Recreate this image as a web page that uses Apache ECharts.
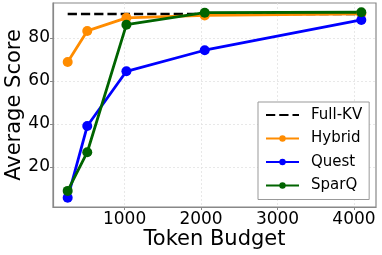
<!DOCTYPE html>
<html><head><meta charset="utf-8">
<script src="https://cdn.jsdelivr.net/npm/echarts@6/dist/echarts.min.js"></script>
<style>html,body{margin:0;padding:0;background:#fff}#c{width:382px;height:255px}</style>
</head><body><div id="c"></div>
<script>
const budgets = [256, 512, 1024, 2048, 4096];
const fullKV = [91.2, 91.2, 91.2, 91.2, 91.2];
const hybrid = [68.8, 83.3, 89.4, 90.5, 91.3];
const quest = [5.6, 39.0, 64.5, 74.3, 88.4];
const sparq = [8.8, 26.8, 86.2, 91.8, 92.0];
const xTicks = [1000, 2000, 3000, 4000];
const yTicks = [20, 40, 60, 80];
const seriesNames = ['Full-KV', 'Hybrid', 'Quest', 'SparQ'];

const FONT = 'DejaVu Sans';
const pairs = arr => budgets.map((b, i) => [b, arr[i]]);

const chart = echarts.init(document.getElementById('c'), null, {renderer: 'canvas'});
function mkLine(name, data, color, dashed) {
  return {
    name, type: 'line', data: pairs(data),
    symbol: dashed ? 'none' : 'circle', symbolSize: 10,
    showSymbol: !dashed,
    lineStyle: {color, width: dashed ? 2.6 : 2.8, type: dashed ? [9.25, 4] : 'solid'},
    itemStyle: {color},
    emphasis: {disabled: true},
    z: 2
  };
}
chart.setOption({
  animation: false,
  textStyle: {fontFamily: FONT},
  grid: {left: 53, right: 6, top: 3, bottom: 48, outerBoundsMode: 'none', containLabel: false, show: true, borderColor: '#888', borderWidth: 1.2, backgroundColor: 'transparent'},
  xAxis: {
    type: 'value', min: 64, max: 4288,
    name: 'Token Budget', nameLocation: 'middle', nameGap: 22, nameMoveOverlap: false,
    nameTextStyle: {fontSize: 21, color: '#000', fontFamily: FONT},
    axisLine: {show: true, lineStyle: {color: '#888', width: 1.2}},
    axisTick: {show: true, length: 3, customValues: xTicks, lineStyle: {color: '#888'}},
    axisLabel: {customValues: xTicks, fontSize: 17, color: '#000', margin: 4, fontFamily: FONT, formatter: v => String(v)},
    splitLine: {show: true, lineStyle: {color: '#e3e3e3', width: 0.8, type: [2, 2]}}
  },
  yAxis: {
    type: 'value', min: 1.3, max: 96.3,
    name: 'Average Score', nameLocation: 'middle', nameGap: 28, nameMoveOverlap: false,
    nameTextStyle: {fontSize: 21, color: '#000', fontFamily: FONT},
    axisLine: {show: true, lineStyle: {color: '#888', width: 1.2}},
    axisTick: {show: true, length: 3, customValues: yTicks, lineStyle: {color: '#888'}},
    axisLabel: {customValues: yTicks, fontSize: 17, color: '#000', margin: 3, fontFamily: FONT, formatter: v => String(v)},
    splitLine: {show: true, lineStyle: {color: '#e3e3e3', width: 0.8, type: [2, 2]}}
  },
  legend: {
    data: [{name: seriesNames[0], itemStyle: {opacity: 0}}, seriesNames[1], seriesNames[2], seriesNames[3]],
    orient: 'vertical', left: 258, top: 102,
    selectedMode: false,
    backgroundColor: '#fff', borderColor: '#999', borderWidth: 1, borderRadius: 0,
    padding: [5, 7, 6, 7],
    itemWidth: 33, itemHeight: 8, itemGap: 7.5,
    textStyle: {fontSize: 15, color: '#000', fontFamily: FONT, lineHeight: 16, padding: [0, 0, 0, 7]}
  },
  series: [
    mkLine('Full-KV', fullKV, '#000000', true),
    mkLine('Hybrid', hybrid, '#ff8c00', false),
    mkLine('Quest', quest, '#0000ff', false),
    mkLine('SparQ', sparq, '#006400', false)
  ]
});
</script></body></html>
